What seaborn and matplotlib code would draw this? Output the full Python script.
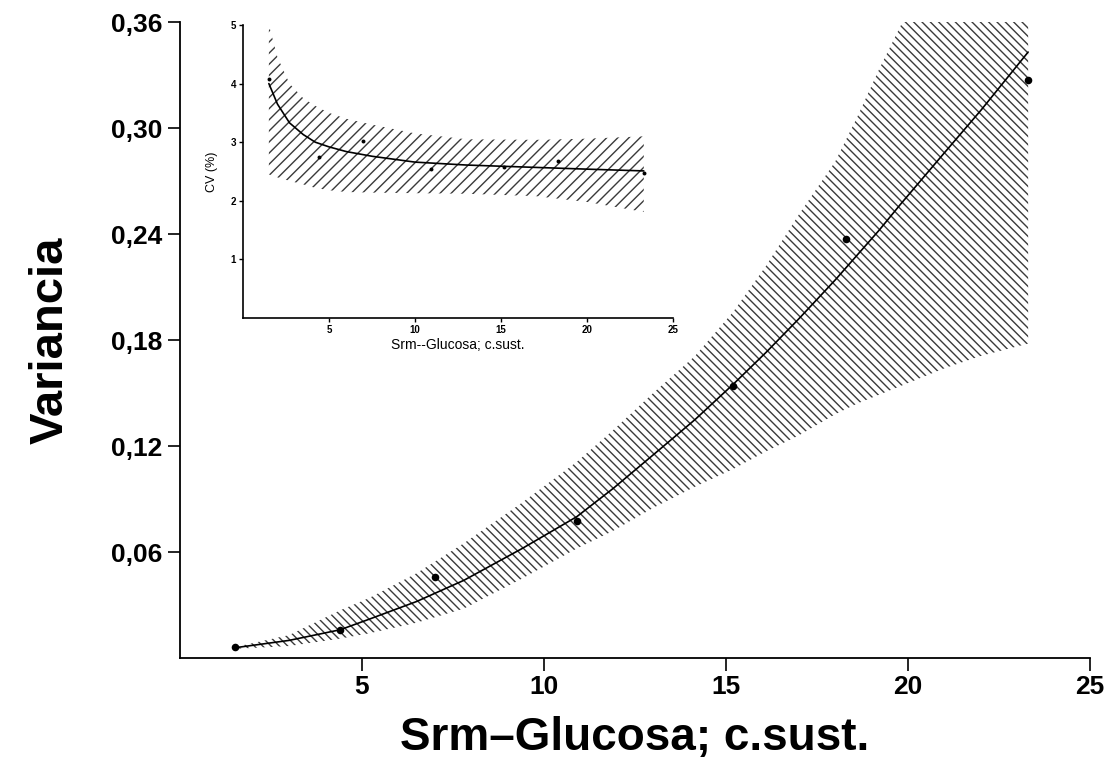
import matplotlib
matplotlib.use("Agg")
import matplotlib.pyplot as plt
import seaborn as sns
import pandas as pd

# ---- data: observed points ----
conc = [1.5, 4.4, 7.0, 10.9, 15.2, 18.3, 23.3]
variance = [0.006, 0.016, 0.046, 0.0775, 0.154, 0.237, 0.327]
cv_pct = [4.08, 2.75, 3.02, 2.54, 2.58, 2.68, 2.48]

# ---- main fit curve and confidence band ----
fit_x = [1.5, 3.0, 4.4, 5.2, 6.5, 7.8, 9.4, 10.9, 11.9, 13.0, 14.15, 15.2,
         16.1, 17.0, 18.0, 18.6, 19.2, 19.8, 21.0, 22.0, 23.3]
fit_var = [0.0058, 0.0100, 0.0160, 0.0220, 0.0320, 0.0440, 0.0620, 0.0800,
           0.0960, 0.1150, 0.1350, 0.1550, 0.1730, 0.1920, 0.2140, 0.2280,
           0.2420, 0.2570, 0.2860, 0.3100, 0.3430]
var_upper = [0.0062, 0.013, 0.027, 0.034, 0.048, 0.065, 0.088, 0.111, 0.129,
             0.150, 0.171, 0.196, 0.222, 0.251, 0.281, 0.306, 0.333, 0.358,
             0.410, 0.450, 0.500]
var_lower = [0.0052, 0.0068, 0.011, 0.014, 0.020, 0.028, 0.045, 0.062, 0.072,
             0.085, 0.097, 0.107, 0.117, 0.126, 0.138, 0.144, 0.149, 0.154,
             0.164, 0.171, 0.178]

# ---- inset fit curve and band ----
cv_x = [1.5, 2.0, 2.7, 3.5, 4.2, 5.0, 6.0, 7.5, 10.0, 13.0, 17.0, 20.0, 23.3]
cv_fit = [4.00, 3.65, 3.33, 3.13, 3.00, 2.92, 2.84, 2.76, 2.66, 2.61, 2.57,
          2.54, 2.51]
cv_upper = [5.00, 4.45, 4.00, 3.75, 3.62, 3.50, 3.40, 3.30, 3.15, 3.05, 3.04,
            3.06, 3.10]
cv_lower = [2.45, 2.40, 2.34, 2.28, 2.22, 2.18, 2.15, 2.14, 2.13, 2.12, 2.08,
            1.98, 1.81]

main_xticks = [5, 10, 15, 20, 25]
main_yticks = [0.06, 0.12, 0.18, 0.24, 0.30, 0.36]
main_yticklabels = ["0,06", "0,12", "0,18", "0,24", "0,30", "0,36"]
inset_xticks = [5, 10, 15, 20, 25]
inset_yticks = [1, 2, 3, 4, 5]

sns.set_theme(style="ticks")
plt.rcParams["font.family"] = ["Liberation Sans", "DejaVu Sans"]
plt.rcParams["hatch.linewidth"] = 1.0
plt.rcParams["text.color"] = "black"
plt.rcParams["axes.labelcolor"] = "black"
plt.rcParams["xtick.color"] = "black"
plt.rcParams["ytick.color"] = "black"

pts = pd.DataFrame({"conc": conc, "variance": variance, "cv": cv_pct})
fit = pd.DataFrame({"x": fit_x, "y": fit_var})
cvfit = pd.DataFrame({"x": cv_x, "y": cv_fit})

fig = plt.figure(figsize=(11.15, 7.76), dpi=100)
ax = fig.add_axes([0.1614, 0.152, 0.8162, 0.8196])

ax.fill_between(fit_x, var_lower, var_upper, facecolor="none",
                edgecolor="#3a3a3a", linewidth=0, hatch="\\\\\\\\")
sns.lineplot(data=fit, x="x", y="y", ax=ax, color="black", linewidth=1.2)
sns.scatterplot(data=pts, x="conc", y="variance", ax=ax, color="black",
                s=30, edgecolor="black", linewidth=0)

ax.set_xlim(0, 25)
ax.set_ylim(0, 0.36)
ax.set_xticks(main_xticks)
ax.set_xticklabels([str(t) for t in main_xticks])
ax.set_yticks(main_yticks)
ax.set_yticklabels(main_yticklabels)
ax.tick_params(axis="both", direction="out", length=9, width=1.2,
               labelsize=19, color="black", labelcolor="black")
for lab in ax.get_xticklabels() + ax.get_yticklabels():
    lab.set_fontweight("bold")
ax.set_xlabel("Srm\u2013Glucosa; c.sust.", fontsize=33, fontweight="bold",
              labelpad=12)
ax.set_ylabel("Variancia", fontsize=34, fontweight="bold", labelpad=28)
sns.despine(ax=ax)
for s in ["left", "bottom"]:
    ax.spines[s].set_linewidth(1.3)
    ax.spines[s].set_color("black")

# ---- inset ----
ins = fig.add_axes([0.218, 0.5902, 0.3856, 0.3776])
ins.fill_between(cv_x, cv_lower, cv_upper, facecolor="none",
                 edgecolor="#3a3a3a", linewidth=0, hatch="///")
sns.lineplot(data=cvfit, x="x", y="y", ax=ins, color="black", linewidth=1.2)
sns.scatterplot(data=pts, x="conc", y="cv", ax=ins, color="black",
                s=8, edgecolor="black", linewidth=0)
ins.set_xlim(0, 25)
ins.set_ylim(0, 5)
ins.set_xticks(inset_xticks)
ins.set_yticks(inset_yticks)
ins.tick_params(axis="both", direction="out", length=3, width=1,
                labelsize=7, pad=2, labelcolor="black")
for lab in ins.get_xticklabels() + ins.get_yticklabels():
    lab.set_fontweight("bold")
ins.set_xlabel("Srm--Glucosa; c.sust.", fontsize=10, labelpad=2)
ins.set_ylabel("CV (%)", fontsize=9, labelpad=9)
ins.patch.set_alpha(0)
sns.despine(ax=ins)
for s in ["left", "bottom"]:
    ins.spines[s].set_linewidth(1.2)
    ins.spines[s].set_color("black")

fig.savefig("out.png", dpi=100)
